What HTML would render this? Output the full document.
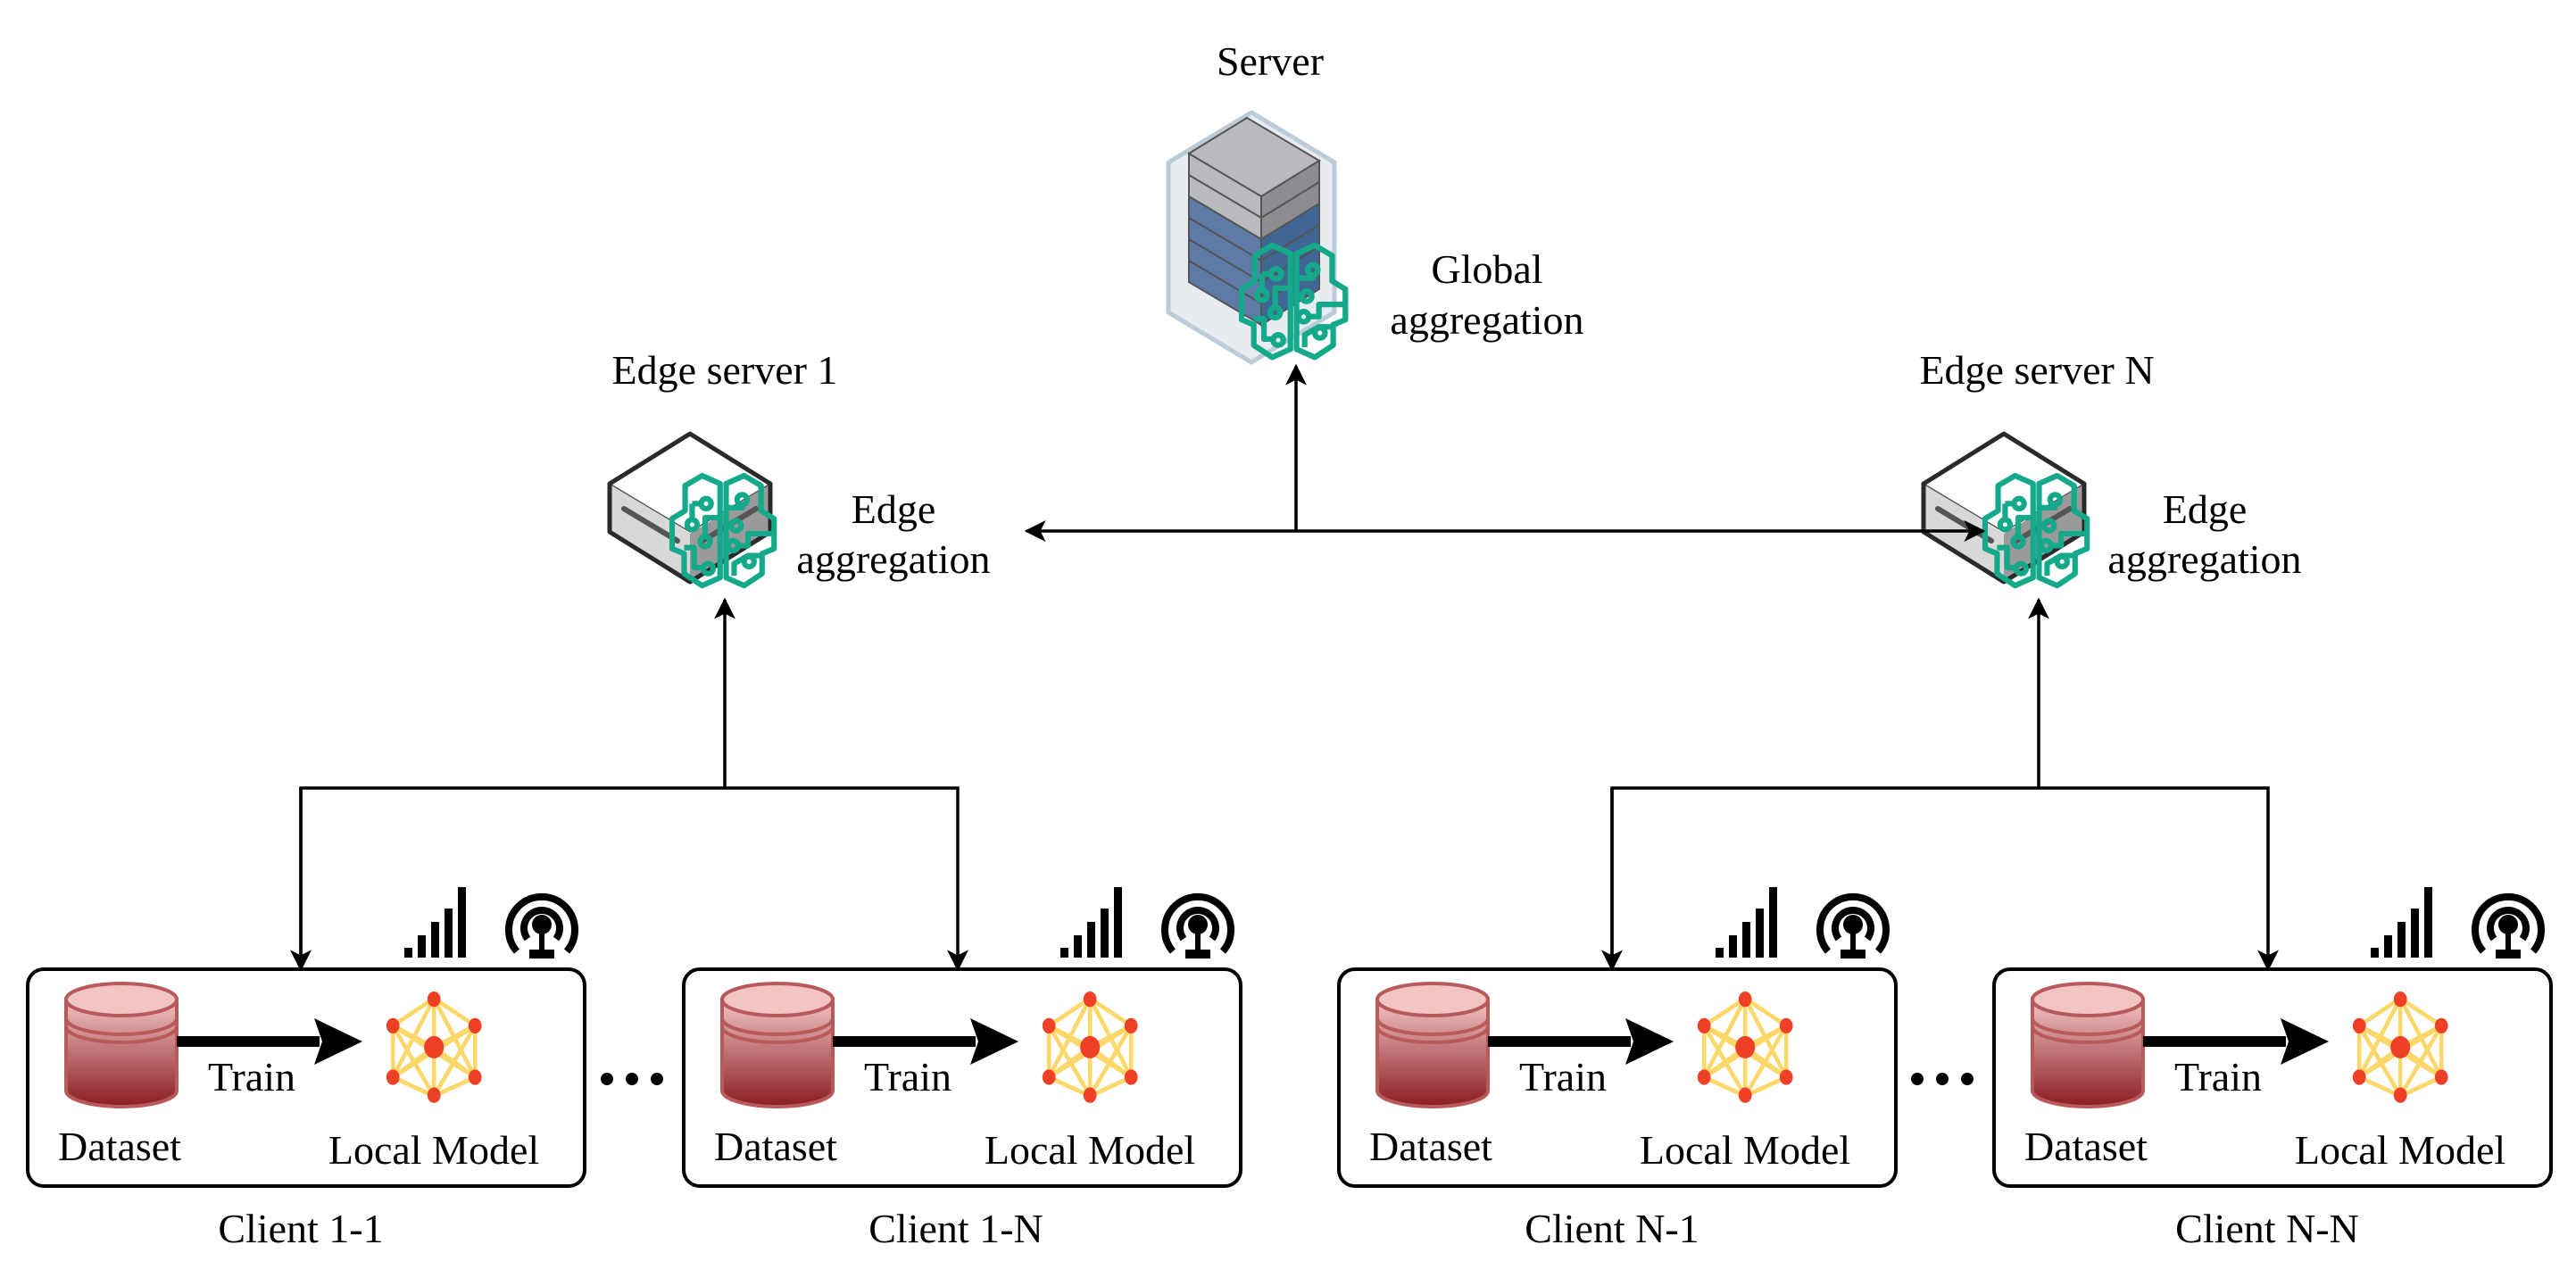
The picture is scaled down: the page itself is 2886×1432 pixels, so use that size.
<!DOCTYPE html>
<html><head><meta charset="utf-8"><style>
html,body{margin:0;padding:0;background:#fff}
svg{display:block}
text{font-family:"Liberation Serif","Times New Roman",serif;fill:#000}
</style></head><body>
<svg width="2886" height="1432" viewBox="0 0 2886 1432" xmlns="http://www.w3.org/2000/svg" font-family="Liberation Serif, serif">
<defs>
<linearGradient id="cyl" x1="0" y1="0" x2="0" y2="1">
<stop offset="0" stop-color="#f2c4c4"/><stop offset="1" stop-color="#8a1c22"/></linearGradient>
<marker id="ah" viewBox="0 0 20 20" refX="18" refY="10" markerWidth="24" markerHeight="24" markerUnits="userSpaceOnUse" orient="auto">
<path d="M0,0 L20,10 L0,20 L5,10 Z" fill="#000"/></marker>
<g id="brain" fill="none" stroke="#14a98a" stroke-width="5.5" stroke-linejoin="round">
<path d="M48,8 L30,0 L13,10 L13,35 L0,43 L0,73 L12,78 L12,98 L30,110 L48,102 Z"/>
<path d="M54,8 L72,0 L89,10 L89,35 L102,43 L102,73 L90,78 L90,98 L72,110 L54,102 Z"/>
<path d="M12,72 L22,72 L22,92 L30,92"/>
<path d="M20,28 L30,28"/><circle cx="34" cy="28" r="5"/>
<path d="M20,28 L20,44"/><circle cx="20" cy="49" r="5"/>
<path d="M48,42 L33,42 L33,61"/><circle cx="33" cy="66" r="5"/><circle cx="36" cy="93" r="5"/>
<path d="M54,32 L70,32 L70,29"/><circle cx="70" cy="24" r="5"/>
<circle cx="64" cy="50" r="5"/>
<path d="M66,70 L76,70 L76,58 L102,58"/><circle cx="61" cy="70" r="5"/>
<path d="M62,100 L62,88 L76,80 L90,80"/><circle cx="77" cy="86" r="5"/>
</g>
<g id="edge">
<path d="M92,2 L182,58 L182,112 L92,168 L2,112 L2,58 Z" fill="#fff"/>
<path d="M4,60 L92,114 L92,166 L4,111 Z" fill="#d9d7d8"/>
<path d="M92,114 L180,60 L180,111 L92,166 Z" fill="#9a9a9a"/>
<path d="M2,58 L92,112 L182,58" fill="none" stroke="#555" stroke-width="1.5"/>
<path d="M2,58 L92,2 L182,58 L182,112 L92,168 L2,112 Z" fill="none" stroke="#2a2a2a" stroke-width="5" stroke-linejoin="round"/>
<path d="M18,86 L78,122 M106,122 L166,86" stroke="#555" stroke-width="6" stroke-linecap="round"/>
</g>
<g id="net">
<g stroke="#fcd86a" stroke-width="5" fill="none">
<path d="M60,8 L10,40 L10,100 L60,122 L110,100 L110,40 Z"/>
<path d="M60,8 L60,122 M60,8 L10,100 M60,8 L110,100 M60,122 L10,40 M60,122 L110,40 M10,40 L110,100 M110,40 L10,100 M10,40 L60,65 L110,40 M10,100 L60,65 L110,100"/>
</g>
<g fill="#ee4026">
<ellipse cx="60" cy="9" rx="8" ry="9"/><ellipse cx="60" cy="121" rx="8" ry="9"/>
<ellipse cx="10" cy="40" rx="8" ry="9"/><ellipse cx="110" cy="40" rx="8" ry="9"/>
<ellipse cx="10" cy="100" rx="8" ry="9"/><ellipse cx="110" cy="100" rx="8" ry="9"/>
<ellipse cx="60" cy="65" rx="12" ry="13"/></g>
</g>
<g id="client">
<rect x="0" y="0" width="624" height="243" rx="18" fill="#fff" stroke="#000" stroke-width="4"/>
<path d="M43,34 L43,136 A62,18 0 0 0 167,136 L167,34 Z" fill="url(#cyl)" stroke="#b85a5a" stroke-width="4"/>
<ellipse cx="105" cy="34" rx="62" ry="18" fill="#f2c4c4" stroke="#b85a5a" stroke-width="4"/>
<path d="M43,55 A62,18 0 0 0 167,55 M43,64 A62,18 0 0 0 167,64" fill="none" stroke="#b85a5a" stroke-width="4"/>
<rect x="167" y="75" width="160" height="12" fill="#000"/>
<path d="M321,55 L375,81 L321,107 L330,81 Z" fill="#000"/>
<g transform="translate(400,25) scale(0.92,0.96)"><use href="#net"/></g>
<text x="251" y="136" font-size="46" text-anchor="middle">Train</text>
<text x="103" y="214" font-size="46" text-anchor="middle">Dataset</text>
<text x="455" y="218" font-size="46" text-anchor="middle">Local Model</text>
<g fill="#000">
<rect x="422" y="-24" width="9" height="11"/><rect x="437" y="-38" width="9" height="25"/><rect x="452" y="-53" width="9" height="40"/><rect x="467" y="-68" width="9" height="55"/><rect x="482" y="-92" width="9" height="79"/></g>
<g fill="none" stroke="#000" stroke-width="8">
<path d="M548,-20 A37,37 0 1 1 604,-20"/><path d="M560,-34 A20,20 0 1 1 592,-34"/></g>
<circle cx="576" cy="-50" r="11" fill="#000"/><rect x="573" y="-48" width="6" height="28" fill="#000"/><rect x="562" y="-22" width="28" height="10" fill="#000"/>
</g>
</defs>

<!-- Server -->
<text x="1423" y="84" font-size="46" text-anchor="middle">Server</text>
<path d="M1402,126 L1495,182 L1495,350 L1402,406 L1309,350 L1309,182 Z" fill="#e8ebf0" stroke="#bccbd8" stroke-width="5" stroke-linejoin="round"/>
<g stroke="#555" stroke-width="2">
<path d="M1332,292 L1413,340 L1413,364 L1332,316 Z" fill="#5e7aa6"/><path d="M1413,340 L1478,300 L1478,324 L1413,364 Z" fill="#3f6694"/>
<path d="M1332,268 L1413,316 L1413,340 L1332,292 Z" fill="#5e7aa6"/><path d="M1413,316 L1478,276 L1478,300 L1413,340 Z" fill="#3f6694"/>
<path d="M1332,244 L1413,292 L1413,316 L1332,268 Z" fill="#5e7aa6"/><path d="M1413,292 L1478,252 L1478,276 L1413,316 Z" fill="#3f6694"/>
<path d="M1332,220 L1413,268 L1413,292 L1332,244 Z" fill="#5e7aa6"/><path d="M1413,268 L1478,228 L1478,252 L1413,292 Z" fill="#3f6694"/>
<path d="M1332,196 L1413,244 L1413,268 L1332,220 Z" fill="#b8babd"/><path d="M1413,244 L1478,204 L1478,228 L1413,268 Z" fill="#8c8d90"/>
<path d="M1332,172 L1413,220 L1413,244 L1332,196 Z" fill="#b8babd"/><path d="M1413,220 L1478,180 L1478,204 L1413,244 Z" fill="#8c8d90"/>
<path d="M1332,172 L1397,132 L1478,180 L1413,220 Z" fill="#b8babd"/>
</g>
<g transform="translate(1391,275) scale(1.14)"><use href="#brain"/></g>
<text x="1666" y="317" font-size="46" text-anchor="middle">Global</text>
<text x="1666" y="374" font-size="46" text-anchor="middle">aggregation</text>

<!-- Edge server 1 -->
<text x="812" y="430" font-size="46" text-anchor="middle">Edge server 1</text>
<g transform="translate(681,484)"><use href="#edge"/></g>
<g transform="translate(753,533) scale(1.12)"><use href="#brain"/></g>
<text x="1001" y="586" font-size="46" text-anchor="middle">Edge</text>
<text x="1001" y="642" font-size="46" text-anchor="middle">aggregation</text>

<!-- Edge server N -->
<text x="2282" y="430" font-size="46" text-anchor="middle">Edge server N</text>
<g transform="translate(2153,484)"><use href="#edge"/></g>
<g transform="translate(2224,533) scale(1.12)"><use href="#brain"/></g>
<text x="2470" y="586" font-size="46" text-anchor="middle">Edge</text>
<text x="2470" y="642" font-size="46" text-anchor="middle">aggregation</text>

<!-- connectors -->
<g stroke="#000" stroke-width="3.5" fill="none">
<line x1="1452" y1="595" x2="1452" y2="410" marker-end="url(#ah)"/>
<line x1="1452" y1="595" x2="1150" y2="595" marker-end="url(#ah)"/>
<line x1="1452" y1="595" x2="2222" y2="595" marker-end="url(#ah)"/>
<line x1="812" y1="883" x2="812" y2="672" marker-end="url(#ah)"/>
<path d="M337,1086 L337,883 L1073,883 L1073,1086" marker-end="url(#ah)"/>
<line x1="337" y1="883" x2="337" y2="1086" marker-end="url(#ah)"/>
<line x1="2284" y1="883" x2="2284" y2="672" marker-end="url(#ah)"/>
<path d="M1806,1086 L1806,883 L2541,883 L2541,1086" marker-end="url(#ah)"/>
<line x1="1806" y1="883" x2="1806" y2="1086" marker-end="url(#ah)"/>
</g>

<!-- clients -->
<g transform="translate(31,1086)"><use href="#client"/></g>
<g transform="translate(766,1086)"><use href="#client"/></g>
<g transform="translate(1500,1086)"><use href="#client"/></g>
<g transform="translate(2234,1086)"><use href="#client"/></g>
<g fill="#000">
<circle cx="680" cy="1209" r="7"/><circle cx="708" cy="1209" r="7"/><circle cx="736" cy="1209" r="7"/>
<circle cx="2148" cy="1209" r="7"/><circle cx="2176" cy="1209" r="7"/><circle cx="2204" cy="1209" r="7"/>
</g>
<text x="337" y="1392" font-size="46" text-anchor="middle">Client 1-1</text>
<text x="1071" y="1392" font-size="46" text-anchor="middle">Client 1-N</text>
<text x="1806" y="1392" font-size="46" text-anchor="middle">Client N-1</text>
<text x="2540" y="1392" font-size="46" text-anchor="middle">Client N-N</text>
</svg>
</body></html>
